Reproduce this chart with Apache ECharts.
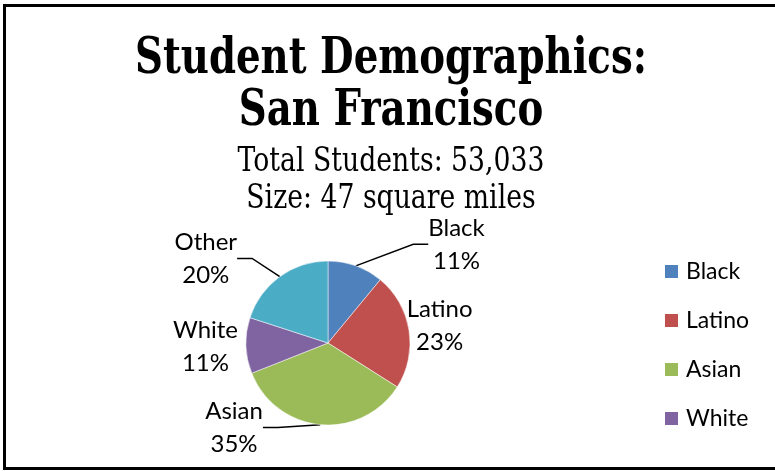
<!DOCTYPE html>
<html>
<head>
<meta charset="utf-8">
<script src="https://cdn.jsdelivr.net/npm/echarts@6/dist/echarts.min.js"></script>
<style>
html,body{margin:0;padding:0;background:#fff;}
#main{width:775px;height:471px;}
</style>
</head>
<body>
<div id="main"></div>
<script>
const titleLines = ['Student Demographics:', 'San Francisco'];
const subtitleLines = ['Total Students: 53,033', 'Size: 47 square miles'];
const categories = ['Black', 'Latino', 'Asian', 'White', 'Other'];
const shares = [11, 23, 35, 11, 20];
const legendItems = ['Black', 'Latino', 'Asian', 'White'];
const colors = ['#4F81BD', '#C0504D', '#9BBB59', '#8064A2', '#4BACC6'];

const labelFont = 'Lato, "Open Sans", sans-serif';
const serifFont = '"DejaVu Serif", serif';
const noLine = ['Latino', 'White'];
// nudges of the data labels (Excel-style placement)
const labelNudge = [[46, 2], [-45, 0], [-37, -14], [32, 4], [-10, 2]];

const data = categories.map((c, i) => ({
  name: c,
  value: shares[i],
  labelLine: { show: noLine.indexOf(c) < 0 }
}));

function headText(txt, y, size, weight, sy) {
  return {
    type: 'text',
    x: 391, y: y,
    originX: 0, originY: 0,
    scaleY: sy,
    silent: true,
    style: {
      text: txt,
      fill: '#000',
      font: weight + ' ' + size + 'px ' + serifFont,
      align: 'center',
      verticalAlign: 'middle'
    }
  };
}

const chart = echarts.init(document.getElementById('main'));
chart.setOption({
  animation: false,
  color: colors,
  legend: {
    data: legendItems,
    orient: 'vertical',
    left: 658,
    top: 255,
    itemWidth: 15,
    itemHeight: 15,
    itemGap: 26,
    icon: 'rect',
    textStyle: { fontFamily: labelFont, fontSize: 23, lineHeight: 22, color: '#000', padding: [0, 0, 0, 2] }
  },
  graphic: [
    {
      type: 'rect',
      shape: { x: 4.5, y: 5.5, width: 800, height: 463 },
      style: { fill: 'none', stroke: '#000', lineWidth: 3 },
      silent: true
    },
    headText(titleLines[0], 59.5, 38.7, 'bold', 1.3),
    headText(titleLines[1], 111.5, 38.7, 'bold', 1.3),
    headText(subtitleLines[0], 162.5, 26.7, 'normal', 1.28),
    headText(subtitleLines[1], 199.5, 26.7, 'normal', 1.28)
  ],
  series: [{
    type: 'pie',
    center: [328, 343],
    radius: 82,
    startAngle: 90,
    clockwise: true,
    data: data,
    itemStyle: { borderColor: '#fff', borderWidth: 0.5 },
    label: {
      show: true,
      position: 'outside',
      formatter: '{t|{b}}\n{t|{d}%}',
      color: '#000',
      distanceToLabelLine: 3,
      rich: {
        t: { fontFamily: labelFont, fontSize: 24, lineHeight: 33, align: 'center', color: '#000' }
      }
    },
    labelLine: {
      show: true,
      length: 25,
      length2: 15,
      lineStyle: { color: '#000', width: 1.5 }
    },
    labelLayout: function (p) {
      const n = labelNudge[p.dataIndex];
      const r = p.labelRect;
      return {
        x: r.x + r.width / 2 + n[0],
        y: r.y + r.height / 2 + n[1],
        align: 'center',
        verticalAlign: 'middle'
      };
    }
  }]
});
</script>
</body>
</html>
